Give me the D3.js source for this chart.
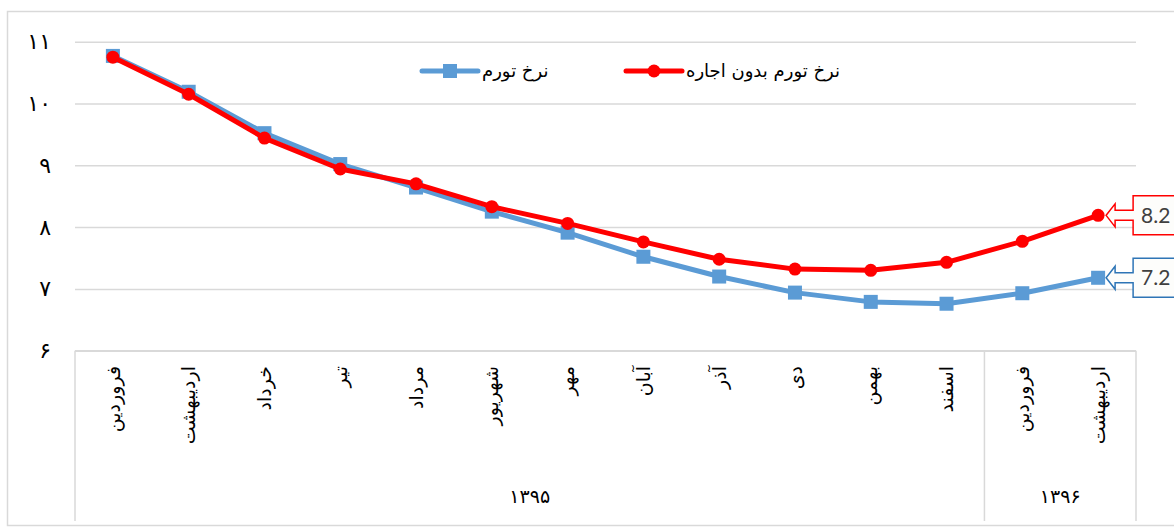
<!DOCTYPE html>
<html>
<head>
<meta charset="utf-8">
<script src="https://cdn.jsdelivr.net/npm/d3@7"></script>
<style>
  body { margin: 0; background: #fff; }
  svg { display: block; }
</style>
</head>
<body>
<svg id="chart" width="1174" height="527"></svg>
<script>
// months along the category axis, left to right
const months = ['فروردین', 'اردیبهشت', 'خرداد', 'تیر', 'مرداد', 'شهریور', 'مهر',
  'آبان', 'آذر', 'دی', 'بهمن', 'اسفند', 'فروردین', 'اردیبهشت']
const yearLabels = ['۱۳۹۵', '۱۳۹۶']
const yearSpans = [12, 2]

// two series
const inflation = [10.77, 10.19, 9.52, 9.02, 8.64, 8.25, 7.91, 7.52, 7.2, 6.94, 6.79, 6.76, 6.93, 7.18]
const inflationNoRent = [10.75, 10.15, 9.44, 8.94, 8.70, 8.33, 8.06, 7.76, 7.48, 7.32, 7.30, 7.43, 7.77, 8.19]
const seriesNames = ['نرخ تورم', 'نرخ تورم بدون اجاره']

const yTicks = [6, 7, 8, 9, 10, 11]
const yTickLabels = ['۶', '۷', '۸', '۹', '۱۰', '۱۱']

const svg = d3.select('#chart')
const plotLeft = 75, plotRight = 1136, plotTop = 41.7, plotBottom = 350.7, axisBottom = 521
const grey = '#d9d9d9'
const blue = '#5b9bd5', red = '#ff0000'
const persian = '"DejaVu Sans", sans-serif'

const x = d3.scaleBand().domain(d3.range(months.length)).range([plotLeft, plotRight])
const y = d3.scaleLinear().domain([6, 11]).range([plotBottom, plotTop])
const cx = (i) => x(i) + x.bandwidth() / 2

// chart frame
svg.append('rect')
  .attr('x', 7.5).attr('y', 11.5).attr('width', 1200).attr('height', 514)
  .attr('fill', '#fff').attr('stroke', grey).attr('stroke-width', 1.5)

// gridlines + y labels
const yAxis = d3.axisLeft(y).tickValues(yTicks)
  .tickSize(-(plotRight - plotLeft)).tickPadding(24)
  .tickFormat((d) => yTickLabels[yTicks.indexOf(d)])
svg.append('g').attr('transform', `translate(${plotLeft},0)`).call(yAxis)
  .call((g) => g.select('.domain').remove())
  .call((g) => g.selectAll('.tick line').attr('stroke', grey).attr('stroke-width', 1.5))
  .call((g) => g.selectAll('.tick text').attr('font-family', persian)
    .attr('font-size', 22).attr('fill', '#000'))

// category axis box: month labels and year groups
const boxes = svg.append('g').attr('stroke', grey).attr('stroke-width', 1.5)
let start = 0
const groupEdges = [plotLeft]
yearSpans.forEach((n) => {
  start += n
  groupEdges.push(start >= months.length ? plotRight : x(start))
})
groupEdges.forEach((gx) => {
  boxes.append('line').attr('x1', gx).attr('x2', gx).attr('y1', plotBottom).attr('y2', axisBottom)
})

svg.append('g').selectAll('text').data(months).join('text')
  .attr('transform', (d, i) => `translate(${cx(i)},366) rotate(-90)`)
  .attr('text-anchor', 'end').attr('dy', '0.35em')
  .attr('font-family', persian).attr('font-size', 19).attr('fill', '#000')
  .text((d) => d)

svg.append('g').selectAll('text').data(yearLabels).join('text')
  .attr('x', (d, i) => (groupEdges[i] + groupEdges[i + 1]) / 2)
  .attr('y', 496).attr('text-anchor', 'middle').attr('dy', '0.35em')
  .attr('font-family', persian).attr('font-size', 19).attr('fill', '#000')
  .text((d) => d)

// lines
const line = d3.line().x((d, i) => cx(i)).y((d) => y(d))
svg.append('path').datum(inflation).attr('d', line)
  .attr('fill', 'none').attr('stroke', blue).attr('stroke-width', 5).attr('stroke-linejoin', 'round')
svg.append('g').selectAll('rect').data(inflation).join('rect')
  .attr('x', (d, i) => cx(i) - 7).attr('y', (d) => y(d) - 7)
  .attr('width', 14).attr('height', 14).attr('fill', blue)

svg.append('path').datum(inflationNoRent).attr('d', line)
  .attr('fill', 'none').attr('stroke', red).attr('stroke-width', 5).attr('stroke-linejoin', 'round')
svg.append('g').selectAll('circle').data(inflationNoRent).join('circle')
  .attr('cx', (d, i) => cx(i)).attr('cy', (d) => y(d)).attr('r', 6.5).attr('fill', red)
svg.append('line').attr('x1', plotLeft).attr('x2', plotRight).attr('y1', plotBottom).attr('y2', plotBottom)
  .attr('stroke', grey).attr('stroke-width', 1.5)

// callouts on the last point of each series
const callout = (px, py) => {
  const p = d3.path()
  const bx = px + 35, hx = px + 17, tx = px + 8
  p.moveTo(bx, py - 19.5); p.lineTo(1200, py - 19.5); p.lineTo(1200, py + 19.5)
  p.lineTo(bx, py + 19.5); p.lineTo(bx, py + 5); p.lineTo(hx, py + 5)
  p.lineTo(hx, py + 11.5); p.lineTo(tx, py); p.lineTo(hx, py - 11.5)
  p.lineTo(hx, py - 5); p.lineTo(bx, py - 5); p.closePath()
  return p.toString()
}
const last = months.length - 1
;[[inflationNoRent, red], [inflation, '#2e75b6']].forEach(([s, c]) => {
  const px = cx(last), py = y(s[last])
  svg.append('path').attr('d', callout(px, py))
    .attr('fill', '#fdfdfb').attr('stroke', c).attr('stroke-width', 1.5)
  svg.append('text').attr('x', px + 43).attr('y', py).attr('dy', '0.35em')
    .attr('font-family', 'Lato, "Open Sans", sans-serif').attr('font-size', 21).attr('fill', '#404040')
    .text(d3.format('.1f')(s[last]))
})

// legend
const legend = [
  { name: seriesNames[0], color: blue, x0: 422, shape: 'rect' },
  { name: seriesNames[1], color: red, x0: 626, shape: 'circle' },
]
const ly = 71
legend.forEach((l) => {
  const g = svg.append('g')
  g.append('line').attr('x1', l.x0).attr('x2', l.x0 + 56).attr('y1', ly).attr('y2', ly)
    .attr('stroke', l.color).attr('stroke-width', 5).attr('stroke-linecap', 'round')
  if (l.shape === 'rect') {
    g.append('rect').attr('x', l.x0 + 21).attr('y', ly - 7).attr('width', 14).attr('height', 14).attr('fill', l.color)
  } else {
    g.append('circle').attr('cx', l.x0 + 28).attr('cy', ly).attr('r', 6.5).attr('fill', l.color)
  }
  g.append('text').attr('x', l.x0 + 60).attr('y', ly).attr('dy', '0.35em')
    .attr('font-family', persian).attr('font-size', 18).attr('fill', '#000')
    .text(l.name)
})
</script>
</body>
</html>
